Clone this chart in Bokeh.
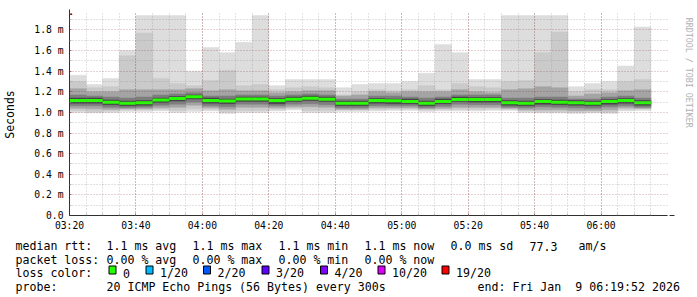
import math
import pandas as pd
from bokeh.plotting import figure
from bokeh.layouts import column, row
from bokeh.models import (ColumnDataSource, Range1d, FixedTicker, Arrow, NormalHead)
from bokeh.core.properties import value
from bokeh.embed import file_html
from bokeh.resources import INLINE

# ---------------- data (milliseconds) ----------------
start_time = "2026-01-09 03:20"
end_time = "2026-01-09 06:20"
step_minutes = 5

median = [1.117, 1.117, 1.100, 1.090, 1.095, 1.120, 1.135, 1.152, 1.117, 1.112,
          1.130, 1.130, 1.117, 1.128, 1.138, 1.127, 1.090, 1.090, 1.115, 1.113,
          1.106, 1.090, 1.106, 1.126, 1.125, 1.125, 1.095, 1.090, 1.105, 1.100,
          1.095, 1.090, 1.105, 1.117, 1.095]
ping_max = [1.36, 1.27, 1.33, 1.60, 1.94, 1.94, 1.94, 1.40, 1.63, 1.58,
            1.68, 1.94, 1.26, 1.32, 1.32, 1.32, 1.24, 1.27, 1.28, 1.28,
            1.30, 1.38, 1.66, 1.58, 1.32, 1.32, 1.94, 1.94, 1.94, 1.94,
            1.25, 1.28, 1.30, 1.45, 1.83]
ping_hi2 = [1.30, 1.24, 1.25, 1.55, 1.77, 1.33, 1.28, 1.26, 1.31, 1.41,
            1.26, 1.27, 1.22, 1.24, 1.25, 1.24, 1.17, 1.20, 1.22, 1.21,
            1.22, 1.26, 1.22, 1.28, 1.25, 1.24, 1.30, 1.31, 1.58, 1.78,
            1.20, 1.22, 1.22, 1.30, 1.32]
ping_hi4 = [1.23, 1.20, 1.20, 1.22, 1.22, 1.22, 1.22, 1.23, 1.21, 1.22,
            1.21, 1.21, 1.19, 1.20, 1.21, 1.21, 1.16, 1.17, 1.20, 1.19,
            1.20, 1.20, 1.20, 1.22, 1.20, 1.19, 1.22, 1.23, 1.25, 1.24,
            1.16, 1.18, 1.19, 1.21, 1.22]
ping_hi6 = [1.17, 1.16, 1.15, 1.14, 1.15, 1.17, 1.18, 1.19, 1.16, 1.16,
            1.17, 1.17, 1.16, 1.17, 1.18, 1.17, 1.13, 1.13, 1.16, 1.16,
            1.15, 1.14, 1.15, 1.17, 1.17, 1.17, 1.14, 1.14, 1.15, 1.15,
            1.13, 1.13, 1.15, 1.16, 1.14]
ping_hi9 = [1.14, 1.14, 1.12, 1.11, 1.115, 1.14, 1.155, 1.17, 1.14, 1.13,
            1.15, 1.15, 1.135, 1.15, 1.16, 1.15, 1.11, 1.11, 1.135, 1.13,
            1.13, 1.11, 1.13, 1.15, 1.145, 1.145, 1.115, 1.11, 1.125, 1.12,
            1.115, 1.11, 1.125, 1.135, 1.115]
ping_lo9 = [1.09, 1.09, 1.075, 1.065, 1.07, 1.095, 1.11, 1.13, 1.09, 1.085,
            1.105, 1.105, 1.085, 1.105, 1.115, 1.105, 1.065, 1.065, 1.09, 1.085,
            1.085, 1.065, 1.085, 1.105, 1.10, 1.10, 1.07, 1.065, 1.08, 1.075,
            1.07, 1.065, 1.08, 1.09, 1.07]
ping_lo6 = [1.065, 1.065, 1.05, 1.045, 1.05, 1.07, 1.08, 1.10, 1.065, 1.055,
            1.08, 1.08, 1.065, 1.08, 1.085, 1.075, 1.045, 1.045, 1.065, 1.065,
            1.065, 1.045, 1.06, 1.08, 1.075, 1.075, 1.05, 1.045, 1.055, 1.05,
            1.045, 1.04, 1.055, 1.065, 1.05]
ping_lo4 = [1.04, 1.035, 1.03, 1.035, 1.035, 1.045, 1.05, 1.07, 1.045, 1.03,
            1.05, 1.05, 1.045, 1.055, 1.055, 1.05, 1.03, 1.03, 1.045, 1.045,
            1.045, 1.035, 1.04, 1.05, 1.05, 1.05, 1.04, 1.025, 1.025, 1.025,
            1.02, 1.02, 1.025, 1.045, 1.04]
ping_lo2 = [1.02, 1.01, 1.015, 1.025, 1.025, 1.03, 1.02, 1.035, 1.03, 1.01,
            1.02, 1.02, 1.03, 1.04, 1.02, 1.02, 1.025, 1.025, 1.03, 1.035,
            1.035, 1.025, 1.03, 1.03, 1.03, 1.035, 1.03, 1.015, 1.01, 1.01,
            1.005, 1.01, 1.005, 1.03, 1.035]
ping_min = [1.00, 0.995, 1.00, 1.01, 1.01, 1.015, 1.00, 1.01, 1.015, 0.99,
            1.00, 1.00, 1.015, 1.025, 1.00, 1.00, 1.01, 1.01, 1.015, 1.02,
            1.02, 1.01, 1.015, 1.015, 1.015, 1.02, 1.02, 1.00, 0.995, 0.995,
            0.99, 0.995, 0.99, 1.015, 1.02]

x_tick_labels = ["03:20", "03:40", "04:00", "04:20", "04:40",
                 "05:00", "05:20", "05:40", "06:00"]
y_ticks = [0.0, 0.2, 0.4, 0.6, 0.8, 1.0, 1.2, 1.4, 1.6, 1.8]
y_tick_labels = ["0.0", "0.2 m", "0.4 m", "0.6 m", "0.8 m",
                 "1.0 m", "1.2 m", "1.4 m", "1.6 m", "1.8 m"]

loss_labels = ["0", "1/20", "2/20", "3/20", "4/20", "10/20", "19/20"]
loss_colors = ["#26ff00", "#00b8ff", "#0059ff", "#5e00ff", "#7e00ff", "#dd00ff", "#ff0000"]

rtt_stats = ["1.1 ms avg", "1.1 ms max", "1.1 ms min", "1.1 ms now", "0.0 ms sd"]
loss_stats = ["0.00 % avg", "0.00 % max", "0.00 % min", "0.00 % now"]
am_value = "77.3"
probe_text = "20 ICMP Echo Pings (56 Bytes) every 300s"
end_text = "end: Fri Jan \u00a09 06:19:52 2026"
credit = "RRDTOOL / TOBI OETIKER"

# ---------------- styles / layout (pixels) ----------------
FONT = "DejaVu Sans Mono"
AXIS = "#303030"
ARROW = "#7f1f1f"
MGRID = "#821e1e"
GRID = "#8c8c8c"
shades = ["#dddddd", "#cacaca", "#a4a4a4", "#7e7e7e", "#454545"]

W, H = 697, 297
MAIN_W, MAIN_H = 675, 235


def ms(ts):
    return pd.Timestamp(ts).value / 1e6


t_left = pd.date_range(start_time, periods=len(median), freq=f"{step_minutes}min")
t_right = t_left + pd.Timedelta(minutes=step_minutes)

src = ColumnDataSource(dict(
    l=t_left, r=t_right, med=median,
    mx=ping_max, hi2=ping_hi2, hi4=ping_hi4, hi6=ping_hi6, hi9=ping_hi9,
    lo9=ping_lo9, lo6=ping_lo6, lo4=ping_lo4, lo2=ping_lo2, mn=ping_min))

p = figure(width=MAIN_W, height=MAIN_H, x_axis_type="datetime",
           x_range=Range1d(ms(start_time), ms(end_time)),
           y_range=Range1d(0, 1.96),
           output_backend="svg", toolbar_location=None,
           min_border_left=67, min_border_right=MAIN_W - 667,
           min_border_top=13, min_border_bottom=MAIN_H - 215,
           background_fill_color="white", border_fill_color="white",
           outline_line_color=None)
p.title.visible = False

bands = [("mn", "mx"), ("lo2", "hi2"), ("lo4", "hi4"), ("lo6", "hi6"), ("lo9", "hi9")]
for (lo, hi), c in zip(bands, shades):
    p.quad(left="l", right="r", bottom=lo, top=hi, source=src,
           fill_color=c, line_color=c, line_width=0.5)

p.segment(x0="l", x1="r", y0="med", y1="med", source=src,
          line_color=loss_colors[0], line_width=3)

# ---------------- axes ----------------
date_prefix = start_time.split(" ")[0]
x_ticks = [ms(f"{date_prefix} {lab}") for lab in x_tick_labels]
x_minor = [ms(t) for t in pd.date_range(start_time, end_time, freq=f"{step_minutes}min")][:-1]
p.xaxis.ticker = FixedTicker(ticks=x_ticks, minor_ticks=x_minor)
p.xaxis.major_label_overrides = dict(zip(x_ticks, x_tick_labels))
y_minor = [round(t + 0.1, 2) for t in y_ticks]
p.yaxis.ticker = FixedTicker(ticks=y_ticks, minor_ticks=y_minor)
p.yaxis.major_label_overrides = dict(zip(y_ticks, y_tick_labels))

for ax in (p.xaxis, p.yaxis):
    ax.axis_line_color = AXIS
    ax.major_tick_line_color = MGRID
    ax.major_tick_line_alpha = 0.6
    ax.major_tick_in = 2
    ax.major_tick_out = 0
    ax.minor_tick_line_color = GRID
    ax.minor_tick_line_alpha = 0.6
    ax.minor_tick_in = 2
    ax.minor_tick_out = 0
    ax.major_label_text_font = FONT
    ax.major_label_text_font_size = "9.7px"
    ax.major_label_text_color = "black"
p.xaxis.major_label_standoff = 4
p.yaxis.major_label_standoff = 6
p.yaxis.axis_label = "Seconds"
p.yaxis.axis_label_text_font = FONT
p.yaxis.axis_label_text_font_size = "11.5px"
p.yaxis.axis_label_text_font_style = "normal"
p.yaxis.axis_label_text_color = "black"
p.yaxis.axis_label_standoff = 14

for g in (p.xgrid, p.ygrid):
    g.level = "overlay"
    g.grid_line_color = MGRID
    g.grid_line_alpha = 0.4
    g.grid_line_dash = "1 2"
    g.minor_grid_line_color = GRID
    g.minor_grid_line_alpha = 0.5
    g.minor_grid_line_dash = "1 2"

# axis arrows (screen units relative to the frame's bottom-left corner)
p.add_layout(Arrow(end=NormalHead(size=5, fill_color=ARROW, line_color=ARROW),
                   x_start=-4, y_start=0, x_end=605, y_end=0,
                   start_units="screen", end_units="screen",
                   line_color=AXIS, line_width=1))
p.add_layout(Arrow(end=NormalHead(size=5, fill_color=ARROW, line_color=ARROW),
                   x_start=0, y_start=-3, x_end=0, y_end=206,
                   start_units="screen", end_units="screen",
                   line_color=AXIS, line_width=1))


def pixel_figure(w, h, x0, y0):
    f = figure(width=w, height=h, x_range=Range1d(x0, x0 + w),
               y_range=Range1d(y0 + h, y0),
               output_backend="svg", toolbar_location=None,
               x_axis_location=None, y_axis_location=None,
               min_border=0, background_fill_color="white",
               border_fill_color="white", outline_line_color=None)
    f.title.visible = False
    f.xgrid.visible = False
    f.ygrid.visible = False
    return f


# right strip with the vertical credit
strip = pixel_figure(W - MAIN_W, MAIN_H, MAIN_W, 0)
strip.text(x=[688], y=[5], text=[credit], angle=-math.pi / 2,
           text_font=value(FONT), text_font_size=value("8.3px"),
           text_color="#b0b0b0", text_align="left", text_baseline="middle")

# legend area
leg = pixel_figure(W, H - MAIN_H, 0, MAIN_H)
col_x = [106, 192, 278, 364, 450]
L1, L2, L3, L4 = 245.5, 259.2, 272.9, 286.6
box_x = [108.5, 145.5, 203, 261.5, 320, 377.5, 441.5]

tx, ty, tt = [], [], []


def add(t, x, y):
    tx.append(x)
    ty.append(y)
    tt.append(t)


add("median rtt:", 15, L1)
for t, x in zip(rtt_stats, col_x):
    add(t, x, L1)
add(am_value, 529, L1)
add("am/s", 578, L1)
add("packet loss:", 15, L2)
for t, x in zip(loss_stats, col_x):
    add(t, x, L2)
add("loss color:", 15, L3)
for t, bx in zip(loss_labels, box_x):
    add(t, bx + 14, L3)
add("probe:", 15, L4)
add(probe_text, 106, L4)
add(end_text, 477, L4)

leg.text(x=tx, y=ty, text=tt, text_font=value(FONT),
         text_font_size=value("11.6px"), text_color="black",
         text_align="left", text_baseline="alphabetic")
leg.quad(left=box_x, right=[b + 7 for b in box_x],
         top=[265.5] * len(box_x), bottom=[273.5] * len(box_x),
         fill_color=loss_colors, line_color="black", line_width=1)

layout = column(row(p, strip), leg)
open("out.html", "w").write(file_html(layout, INLINE))
